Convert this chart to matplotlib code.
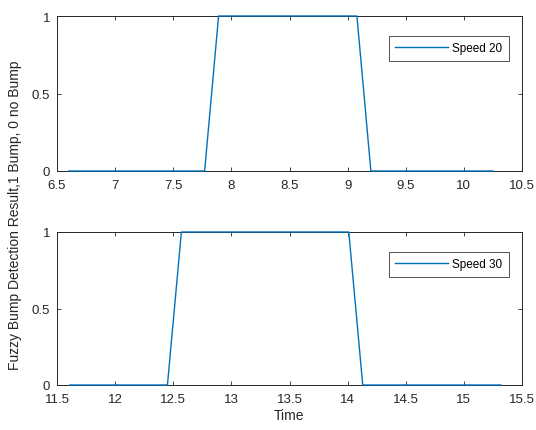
"""
Fuzzy bump detection result for two vehicle speeds (MATLAB-style figure).
"""

import matplotlib
matplotlib.use("Agg")
import matplotlib.pyplot as plt

# -------------------------------------------------------------------
# Data
# -------------------------------------------------------------------

time_20 = [6.60, 7.77, 7.89, 9.08, 9.20, 10.25]
bump_20 = [0, 0, 1, 1, 0, 0]

time_30 = [11.61, 12.45, 12.57, 14.01, 14.13, 15.32]
bump_30 = [0, 0, 1, 1, 0, 0]

xticks_20 = [6.5, 7, 7.5, 8, 8.5, 9, 9.5, 10, 10.5]
xticks_30 = [11.5, 12, 12.5, 13, 13.5, 14, 14.5, 15, 15.5]
yticks = [0, 0.5, 1]

LINE_COLOR = "#0072BD"
AXIS_COLOR = "#262626"

plt.rcParams["font.family"] = ["Liberation Sans", "DejaVu Sans"]
plt.rcParams["font.size"] = 9


def style_axes(ax, xticks):
    ax.set_xlim(xticks[0], xticks[-1])
    ax.set_ylim(0, 1)
    ax.set_xticks(xticks)
    ax.set_xticklabels([f"{t:g}" for t in xticks])
    ax.set_yticks(yticks)
    ax.set_yticklabels(["0", "0.5", "1"])
    ax.tick_params(direction="in", length=3, width=0.6, colors=AXIS_COLOR,
                   top=True, right=True, labelsize=9.5)
    ax.tick_params(axis="x", pad=6)
    ax.tick_params(axis="y", pad=5)
    for spine in ax.spines.values():
        spine.set_color(AXIS_COLOR)
        spine.set_linewidth(0.7)


fig = plt.figure(figsize=(5.36, 4.31), dpi=100)
ax1 = fig.add_axes([57 / 536, 1 - 172 / 431, 465 / 536, 155 / 431])
ax2 = fig.add_axes([57 / 536, 1 - 386 / 431, 465 / 536, 153 / 431])

ax1.plot(time_20, bump_20, color=LINE_COLOR, linewidth=1.0, label="Speed 20",
         clip_on=False, zorder=5)
ax2.plot(time_30, bump_30, color=LINE_COLOR, linewidth=1.0, label="Speed 30",
         clip_on=False, zorder=5)

for ax, ticks in [(ax1, xticks_20), (ax2, xticks_30)]:
    style_axes(ax, ticks)
    leg = ax.legend(loc="upper right", bbox_to_anchor=(0.984, 0.91),
                    fontsize=8.5, frameon=True, fancybox=False,
                    handlelength=4.5, borderpad=0.55, handletextpad=0.3)
    leg.get_frame().set_edgecolor(AXIS_COLOR)
    leg.get_frame().set_linewidth(0.7)

ax2.set_xlabel("Time", fontsize=10, color=AXIS_COLOR, labelpad=2)
fig.text(15 / 536, 0.5, "Fuzzy Bump Detection Result,1 Bump, 0 no Bump",
         rotation=90, va="center", ha="center", fontsize=10, color=AXIS_COLOR)

fig.savefig("out.png", dpi=100)
